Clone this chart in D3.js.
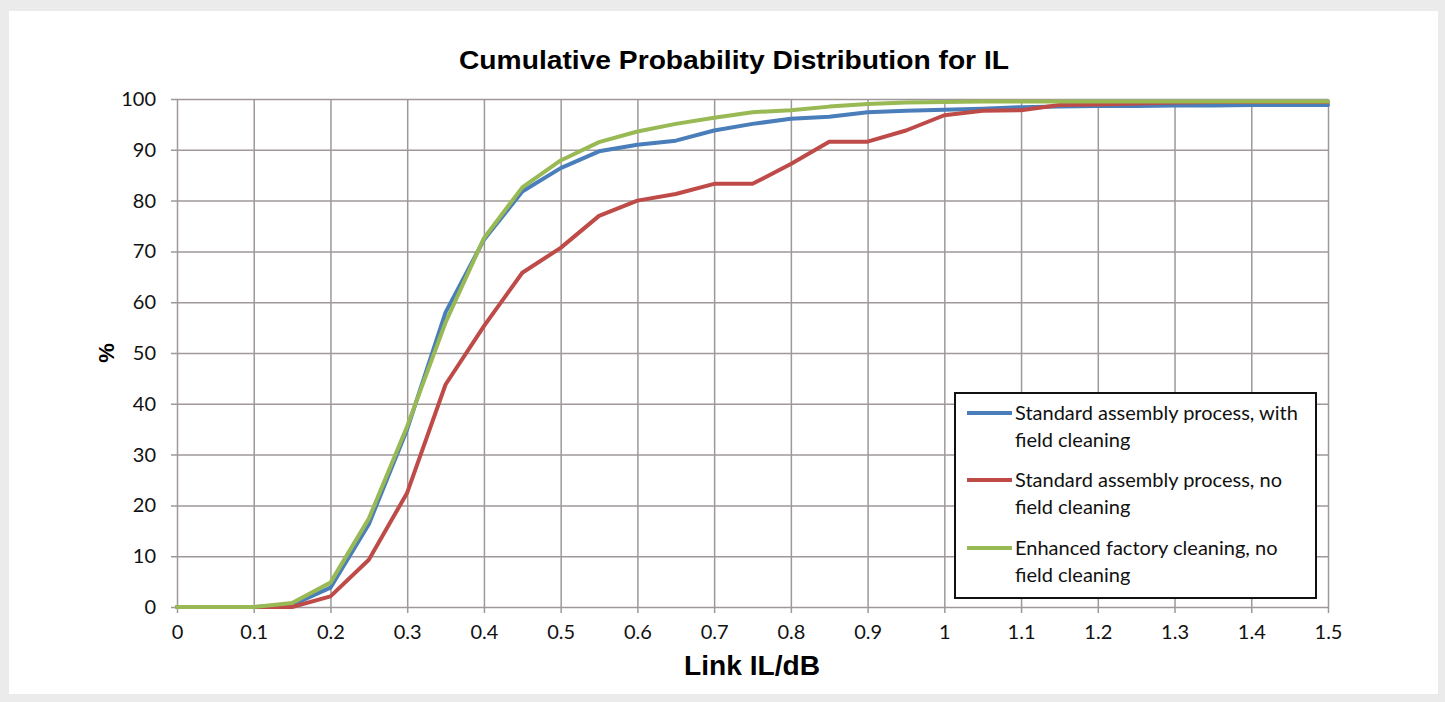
<!DOCTYPE html>
<html>
<head>
<meta charset="utf-8">
<script src="https://cdn.jsdelivr.net/npm/d3@7"></script>
<style>
  html, body { margin: 0; padding: 0; background: #ebebeb; }
  svg { display: block; }
</style>
</head>
<body>
<svg id="chart" width="1445" height="702"></svg>
<script>
// ---- data ----
const xValues = [0, 0.05, 0.1, 0.15, 0.2, 0.25, 0.3, 0.35, 0.4, 0.45, 0.5, 0.55, 0.6, 0.65, 0.7, 0.75, 0.8, 0.85, 0.9, 0.95, 1.0, 1.05, 1.1, 1.15, 1.2, 1.25, 1.3, 1.35, 1.4, 1.45, 1.5];
const blueValues  = [0, 0, 0, 0.4, 3.8, 16.3, 35, 58, 72.3, 81.8, 86.4, 89.7, 91.0, 91.8, 93.8, 95.1, 96.1, 96.5, 97.4, 97.7, 97.9, 98.1, 98.4, 98.5, 98.6, 98.6, 98.7, 98.7, 98.8, 98.8, 98.8];
const redValues   = [0, 0, 0, 0, 2.1, 9.3, 22.5, 43.8, 55.3, 65.8, 70.7, 77.0, 80.0, 81.3, 83.3, 83.3, 87.2, 91.6, 91.6, 93.8, 96.8, 97.7, 97.8, 98.8, 98.9, 99.1, 99.3, 99.4, 99.4, 99.4, 99.4];
const greenValues = [0, 0, 0, 0.8, 4.8, 17.4, 35.6, 56, 72.6, 82.6, 87.9, 91.5, 93.6, 95.1, 96.3, 97.4, 97.8, 98.5, 99.0, 99.3, 99.4, 99.5, 99.5, 99.5, 99.5, 99.5, 99.5, 99.5, 99.5, 99.5, 99.5];
const seriesNames = ["Standard assembly process, with field cleaning", "Standard assembly process, no field cleaning", "Enhanced factory cleaning, no field cleaning"];
const legendLines = [["Standard assembly process, with", "field cleaning"], ["Standard assembly process, no", "field cleaning"], ["Enhanced factory cleaning, no", "field cleaning"]];
const seriesColors = ["#4a7ebb", "#be4b48", "#98b954"];
const xTicks = [0, 0.1, 0.2, 0.3, 0.4, 0.5, 0.6, 0.7, 0.8, 0.9, 1, 1.1, 1.2, 1.3, 1.4, 1.5];
const yTicks = [0, 10, 20, 30, 40, 50, 60, 70, 80, 90, 100];
const titleText = "Cumulative Probability Distribution for IL";
const xTitle = "Link IL/dB";
const yTitle = "%";

// ---- layout ----
const svg = d3.select("#chart");
const L = 177, R = 1328, T = 99, B = 607;
const x = d3.scaleLinear().domain([0, 1.5]).range([L, R]);
const y = d3.scaleLinear().domain([0, 100]).range([B, T]);

svg.append("rect").attr("x", 9).attr("y", 11).attr("width", 1429).attr("height", 683).attr("fill", "#ffffff");

const gridColor = "#9f9898";
const labelFont = "Lato, 'Open Sans', sans-serif";

// horizontal grid + y ticks
const yAxis = d3.axisLeft(y).tickValues(yTicks).tickSize(-(R - L)).tickSizeOuter(0).tickPadding(14).tickFormat(d3.format("d"));
const gy = svg.append("g").attr("transform", `translate(${L},0)`).call(yAxis);
gy.select(".domain").remove();
gy.selectAll(".tick line").attr("x1", -6).attr("stroke", gridColor).attr("stroke-width", 1.5);
gy.selectAll(".tick text").attr("font-family", labelFont).attr("font-size", 20).attr("fill", "#111").attr("x", -21);

// vertical grid + x ticks
const xAxis = d3.axisBottom(x).tickValues(xTicks).tickSize(-(B - T)).tickSizeOuter(0).tickPadding(14).tickFormat(d => d3.format("")(d));
const gx = svg.append("g").attr("transform", `translate(0,${B})`).call(xAxis);
gx.select(".domain").remove();
gx.selectAll(".tick line").attr("y1", 6).attr("stroke", gridColor).attr("stroke-width", 1.5);
gx.selectAll(".tick text").attr("font-family", labelFont).attr("font-size", 20).attr("fill", "#111").attr("y", 18);

// lines
const line = d3.line().x((d, i) => x(xValues[i])).y(d => y(d));
[blueValues, redValues, greenValues].forEach((vals, i) => {
  svg.append("path").datum(vals).attr("d", line)
    .attr("fill", "none").attr("stroke", seriesColors[i]).attr("stroke-width", 4)
    .attr("stroke-linejoin", "round").attr("stroke-linecap", "round");
});

// title
svg.append("text").attr("x", 734).attr("y", 69).attr("text-anchor", "middle")
  .attr("font-family", "'Liberation Sans', Arial, sans-serif").attr("font-weight", "bold").attr("font-size", 26)
  .attr("textLength", 550).attr("lengthAdjust", "spacingAndGlyphs")
  .text(titleText);

// axis titles
svg.append("text").attr("x", 752).attr("y", 675).attr("text-anchor", "middle")
  .attr("font-family", "'Liberation Sans', Arial, sans-serif").attr("font-weight", "bold").attr("font-size", 28)
  .attr("textLength", 136).attr("lengthAdjust", "spacingAndGlyphs")
  .text(xTitle);
svg.append("text").attr("transform", `translate(114,${(T + B) / 2}) rotate(-90)`).attr("text-anchor", "middle")
  .attr("font-family", "'Liberation Sans', Arial, sans-serif").attr("font-weight", "bold").attr("font-size", 22)
  .text(yTitle);

// legend
const lg = svg.append("g");
lg.append("rect").attr("x", 955).attr("y", 393).attr("width", 361).attr("height", 205)
  .attr("fill", "#fff").attr("stroke", "#111").attr("stroke-width", 2);
const itemY = [413, 480, 548];
legendLines.forEach((lines, i) => {
  lg.append("line").attr("x1", 967).attr("x2", 1012).attr("y1", itemY[i]).attr("y2", itemY[i])
    .attr("stroke", seriesColors[i]).attr("stroke-width", 4);
  lines.forEach((t, j) => {
    lg.append("text").attr("x", 1015).attr("y", itemY[i] + j * 27).attr("dy", "0.36em")
      .attr("font-family", labelFont).attr("font-size", 20).attr("fill", "#111").text(t);
  });
});
</script>
</body>
</html>
